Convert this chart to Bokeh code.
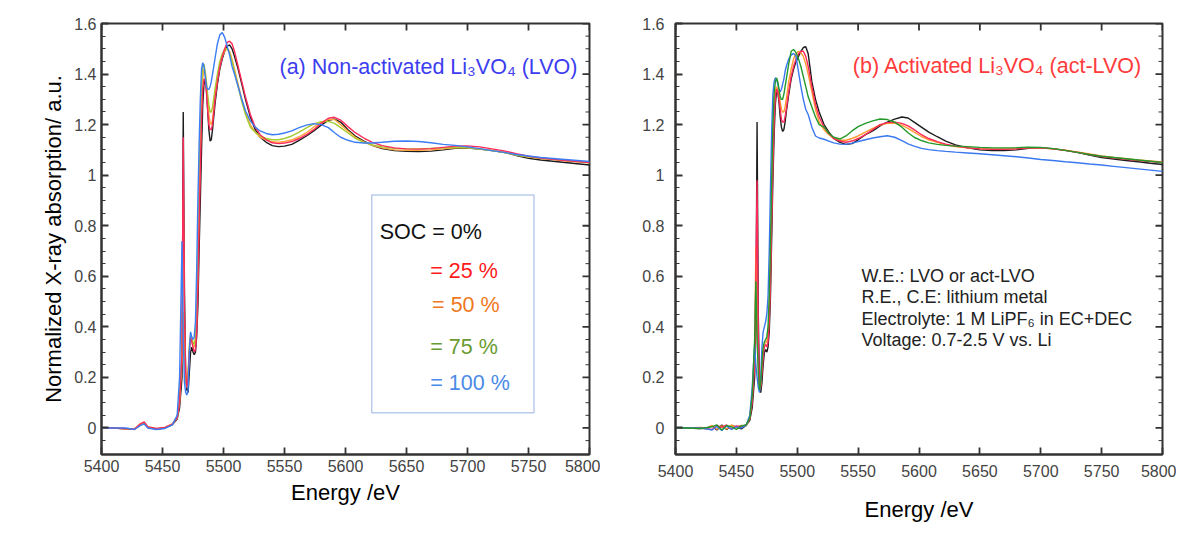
from bokeh.plotting import figure
from bokeh.layouts import row
from bokeh.models import Range1d, FixedTicker, CustomJSTickFormatter
from bokeh.core.properties import value
from bokeh.embed import file_html
from bokeh.resources import INLINE

FONT = "Liberation Sans"

X_TICKS = [5400, 5450, 5500, 5550, 5600, 5650, 5700, 5750, 5800]
Y_TICKS = [0, 0.2, 0.4, 0.6, 0.8, 1.0, 1.2, 1.4, 1.6]
Y_MINOR = [-0.05, 0.05, 0.1, 0.15, 0.25, 0.3, 0.35, 0.45, 0.5, 0.55, 0.65, 0.7, 0.75,
           0.85, 0.9, 0.95, 1.05, 1.1, 1.15, 1.25, 1.3, 1.35, 1.45, 1.5, 1.55]
X_MIN, X_MAX = 5400, 5800
Y_MIN, Y_MAX = -0.105, 1.6

SOC_LABELS = ["SOC = 0%", "= 25 %", "= 50 %", "= 75 %", "= 100 %"]

# ---------------- panel (a): non-activated LVO ----------------
E_A = [5400, 5410, 5420, 5427, 5432, 5435, 5438, 5445, 5452, 5458,
       5462, 5464, 5466, 5467, 5468, 5469, 5470, 5471, 5472, 5473,
       5474, 5475, 5476, 5477, 5478, 5479, 5480, 5481, 5482, 5483,
       5484, 5485, 5486, 5487, 5488, 5489, 5490, 5491, 5493, 5495,
       5497, 5499, 5501, 5503, 5505, 5507, 5509, 5512, 5515, 5518,
       5522, 5526, 5530, 5535, 5540, 5545, 5550, 5556, 5562, 5568,
       5574, 5580, 5586, 5591, 5596, 5602, 5608, 5615, 5622, 5630,
       5640, 5650, 5660, 5670, 5680, 5690, 5700, 5710, 5720, 5730,
       5740, 5750, 5760, 5770, 5780, 5790, 5800]

A_SOC0 = [0.0, 0.0, -0.003, -0.005, 0.012, 0.02, 0.002, -0.004, 0.0, 0.012,
          0.035, 0.08, 0.2, 1.25, 0.55, 0.2, 0.15, 0.14, 0.22, 0.3,
          0.32, 0.3, 0.29, 0.3, 0.36, 0.48, 0.7, 0.9, 1.1, 1.28,
          1.36, 1.38, 1.34, 1.26, 1.18, 1.135, 1.14, 1.18, 1.28, 1.36,
          1.42, 1.46, 1.49, 1.51, 1.515, 1.5, 1.47, 1.42, 1.36, 1.3,
          1.23, 1.18, 1.15, 1.13, 1.117, 1.113, 1.115, 1.122, 1.138, 1.155,
          1.175, 1.198, 1.217, 1.222, 1.21, 1.18, 1.155, 1.135, 1.118, 1.105,
          1.097, 1.094, 1.093, 1.095, 1.1, 1.106, 1.107, 1.103, 1.097, 1.09,
          1.078, 1.067, 1.06, 1.055, 1.05, 1.045, 1.04]
A_SOC25 = [0.0, 0.0, -0.003, -0.004, 0.016, 0.024, 0.004, -0.002, 0.002, 0.015,
           0.04, 0.1, 0.3, 1.15, 0.45, 0.22, 0.16, 0.2, 0.3, 0.36,
           0.34, 0.32, 0.3, 0.31, 0.38, 0.55, 0.8, 1.02, 1.22, 1.34,
           1.38, 1.38, 1.33, 1.26, 1.2, 1.18, 1.18, 1.2, 1.3, 1.37,
           1.43, 1.47, 1.5, 1.525, 1.53, 1.52, 1.49, 1.43, 1.37, 1.31,
           1.24, 1.19, 1.16, 1.14, 1.128, 1.125, 1.127, 1.133, 1.145, 1.16,
           1.18, 1.205, 1.225, 1.229, 1.218, 1.192, 1.168, 1.147, 1.13, 1.117,
           1.108, 1.104, 1.103, 1.105, 1.11, 1.115, 1.116, 1.112, 1.104, 1.096,
           1.085, 1.075, 1.068, 1.063, 1.058, 1.054, 1.05]
A_SOC50 = [0.0, 0.0, -0.003, -0.003, 0.018, 0.022, 0.005, -0.003, 0.002, 0.016,
           0.042, 0.1, 0.28, 0.9, 0.4, 0.2, 0.17, 0.22, 0.3, 0.36,
           0.35, 0.33, 0.32, 0.33, 0.42, 0.62, 0.88, 1.1, 1.28, 1.38,
           1.42, 1.41, 1.36, 1.3, 1.24, 1.21, 1.2, 1.22, 1.31, 1.38,
           1.43, 1.47, 1.49, 1.5, 1.49, 1.46, 1.42, 1.36, 1.3, 1.25,
           1.2, 1.17, 1.15, 1.14, 1.132, 1.13, 1.133, 1.14, 1.152, 1.168,
           1.19, 1.21, 1.22, 1.22, 1.2, 1.175, 1.15, 1.132, 1.118, 1.108,
           1.1, 1.098, 1.098, 1.1, 1.104, 1.108, 1.108, 1.104, 1.098, 1.09,
           1.08, 1.072, 1.066, 1.062, 1.057, 1.053, 1.049]
A_SOC75 = [0.0, 0.0, -0.003, -0.004, 0.012, 0.018, 0.003, -0.004, 0.0, 0.014,
           0.04, 0.12, 0.3, 0.46, 0.3, 0.2, 0.16, 0.22, 0.33, 0.37,
           0.36, 0.34, 0.33, 0.36, 0.48, 0.72, 1.0, 1.2, 1.36, 1.43,
           1.44, 1.41, 1.37, 1.32, 1.28, 1.25, 1.25, 1.27, 1.34, 1.4,
           1.45, 1.48, 1.5, 1.5, 1.485, 1.45, 1.41, 1.35, 1.29, 1.24,
           1.19, 1.17, 1.155, 1.145, 1.14, 1.14, 1.145, 1.155, 1.17, 1.187,
           1.203, 1.212, 1.213, 1.205, 1.188, 1.167, 1.146, 1.13, 1.12, 1.112,
           1.106, 1.104, 1.104, 1.106, 1.108, 1.11, 1.108, 1.103, 1.097, 1.089,
           1.08, 1.073, 1.067, 1.063, 1.058, 1.054, 1.05]
A_SOC100 = [0.0, 0.0, 0.0, -0.006, 0.01, 0.016, 0.0, -0.006, -0.002, 0.012,
            0.05, 0.2, 0.74, 0.35, 0.18, 0.14, 0.13, 0.15, 0.3, 0.38,
            0.36, 0.35, 0.36, 0.42, 0.62, 0.9, 1.12, 1.3, 1.42, 1.445,
            1.43, 1.39, 1.35, 1.34, 1.34, 1.35, 1.37, 1.4, 1.46, 1.52,
            1.555, 1.564, 1.545, 1.51, 1.475, 1.43, 1.4, 1.35, 1.3, 1.255,
            1.215, 1.19, 1.175, 1.165, 1.16, 1.162, 1.167, 1.175, 1.188, 1.198,
            1.204, 1.2, 1.188, 1.168, 1.15, 1.138, 1.13, 1.127, 1.127, 1.13,
            1.134, 1.135, 1.133, 1.128, 1.122, 1.118, 1.112, 1.105, 1.097, 1.09,
            1.082, 1.076, 1.07, 1.066, 1.062, 1.058, 1.054]

# ---------------- panel (b): activated LVO ----------------
E_B = [5400, 5410, 5420, 5426, 5430, 5434, 5438, 5442, 5446, 5450,
       5454, 5458, 5461, 5463, 5465, 5466, 5467, 5468, 5469, 5470,
       5471, 5472, 5473, 5474, 5475, 5476, 5477, 5478, 5479, 5480,
       5481, 5482, 5483, 5484, 5485, 5486, 5487, 5488, 5489, 5490,
       5491, 5493, 5495, 5497, 5499, 5501, 5503, 5505, 5507, 5509,
       5512, 5515, 5518, 5522, 5526, 5530, 5535, 5540, 5545, 5550,
       5556, 5562, 5568, 5574, 5580, 5586, 5591, 5596, 5602, 5608,
       5615, 5622, 5630, 5640, 5650, 5660, 5670, 5680, 5690, 5700,
       5710, 5720, 5730, 5740, 5750, 5760, 5770, 5780, 5790, 5800]

B_SOC0 = [0.0, 0.0, -0.002, 0.0, 0.008, -0.008, 0.012, -0.006, 0.01, 0.004,
          -0.004, 0.01, 0.03, 0.08, 0.2, 0.4, 1.21, 0.45, 0.16, 0.14,
          0.18, 0.25, 0.3, 0.31, 0.3, 0.32, 0.38, 0.52, 0.75, 0.98,
          1.16, 1.28, 1.33, 1.33, 1.29, 1.23, 1.19, 1.173, 1.18, 1.21,
          1.25, 1.32, 1.38, 1.42, 1.45, 1.47, 1.49, 1.505, 1.508, 1.48,
          1.37, 1.3, 1.25, 1.2, 1.17, 1.145, 1.13, 1.122, 1.125, 1.14,
          1.16, 1.175, 1.195, 1.21, 1.222, 1.23, 1.226, 1.21, 1.19, 1.17,
          1.152, 1.135, 1.12, 1.108, 1.1, 1.097, 1.097, 1.1, 1.106, 1.108,
          1.105, 1.098, 1.09, 1.08, 1.07, 1.064, 1.058, 1.053, 1.047, 1.042]
B_SOC25 = [0.0, 0.0, 0.0, -0.003, -0.006, 0.01, 0.002, 0.012, -0.005, 0.008,
           0.006, 0.012, 0.035, 0.1, 0.25, 0.6, 0.98, 0.35, 0.15, 0.16,
           0.22, 0.28, 0.32, 0.33, 0.32, 0.34, 0.42, 0.58, 0.82, 1.05,
           1.22, 1.31, 1.34, 1.33, 1.3, 1.26, 1.22, 1.21, 1.21, 1.23,
           1.26, 1.33, 1.39, 1.43, 1.46, 1.48, 1.49, 1.49, 1.47, 1.43,
           1.35, 1.28, 1.23, 1.19, 1.165, 1.145, 1.135, 1.13, 1.135, 1.145,
           1.16, 1.18, 1.2, 1.208, 1.21, 1.205, 1.195, 1.18, 1.16, 1.145,
           1.133, 1.123, 1.115, 1.108, 1.104, 1.102, 1.102, 1.104, 1.108, 1.108,
           1.104, 1.098, 1.09, 1.082, 1.074, 1.068, 1.063, 1.058, 1.054, 1.05]
B_SOC50 = [0.0, 0.0, 0.002, 0.0, 0.01, -0.005, 0.008, -0.004, 0.012, 0.0,
           0.01, 0.008, 0.04, 0.12, 0.3, 0.72, 0.5, 0.25, 0.15, 0.17,
           0.24, 0.3, 0.33, 0.34, 0.34, 0.37, 0.46, 0.64, 0.88, 1.1,
           1.26, 1.33, 1.35, 1.34, 1.32, 1.29, 1.26, 1.25, 1.25, 1.27,
           1.3, 1.37, 1.42, 1.46, 1.48, 1.49, 1.485, 1.47, 1.44, 1.4,
           1.33, 1.26, 1.21, 1.18, 1.16, 1.145, 1.138, 1.138, 1.145, 1.155,
           1.17, 1.185, 1.198, 1.205, 1.205, 1.198, 1.185, 1.17, 1.153, 1.14,
           1.13, 1.12, 1.113, 1.108, 1.105, 1.104, 1.104, 1.106, 1.108, 1.108,
           1.104, 1.099, 1.092, 1.084, 1.076, 1.07, 1.065, 1.06, 1.056, 1.052]
B_SOC75 = [0.0, 0.0, -0.002, 0.002, 0.005, 0.012, -0.008, 0.01, 0.004, -0.006,
           0.008, 0.012, 0.04, 0.13, 0.35, 0.58, 0.35, 0.22, 0.15, 0.18,
           0.26, 0.32, 0.34, 0.35, 0.36, 0.4, 0.52, 0.72, 0.98, 1.2,
           1.32, 1.37, 1.385, 1.37, 1.34, 1.31, 1.3, 1.3, 1.32, 1.35,
           1.38, 1.44, 1.49, 1.497, 1.485, 1.46, 1.43, 1.39, 1.35, 1.31,
           1.27, 1.23, 1.2, 1.19, 1.165, 1.15, 1.143, 1.155, 1.175, 1.192,
           1.205, 1.215, 1.222, 1.22, 1.21, 1.19, 1.168, 1.15, 1.137, 1.128,
           1.122, 1.118, 1.115, 1.113, 1.11, 1.108, 1.108, 1.109, 1.111, 1.11,
           1.105, 1.098, 1.09, 1.082, 1.075, 1.07, 1.065, 1.06, 1.055, 1.05]
B_SOC100 = [0.0, 0.0, 0.0, -0.004, -0.008, 0.006, -0.01, 0.008, -0.006, 0.004,
            0.0, 0.01, 0.05, 0.16, 0.33, 0.25, 0.2, 0.16, 0.14, 0.2,
            0.32, 0.38, 0.4, 0.42, 0.45, 0.52, 0.7, 0.95, 1.18, 1.32,
            1.37, 1.385, 1.38, 1.36, 1.34, 1.33, 1.34, 1.36, 1.38, 1.41,
            1.43, 1.46, 1.475, 1.482, 1.47, 1.41, 1.35, 1.3, 1.26, 1.24,
            1.19, 1.155, 1.147, 1.142, 1.135, 1.128, 1.123, 1.122, 1.127, 1.133,
            1.14, 1.147, 1.152, 1.156, 1.15, 1.137, 1.124, 1.115, 1.106, 1.101,
            1.097, 1.094, 1.091, 1.088, 1.085, 1.081, 1.077, 1.073, 1.068, 1.062,
            1.058, 1.053, 1.049, 1.044, 1.04, 1.035, 1.03, 1.025, 1.02, 1.015]

for s in (A_SOC0, A_SOC25, A_SOC50, A_SOC75, A_SOC100):
    assert len(s) == len(E_A), len(s)
for s in (B_SOC0, B_SOC25, B_SOC50, B_SOC75, B_SOC100):
    assert len(s) == len(E_B), len(s)

FRAME = "#333333"
HEIGHT = 535
BORDER_TOP = 23
BORDER_BOTTOM = 81
FRAME_H = HEIGHT - BORDER_TOP - BORDER_BOTTOM


def make_panel(E, series, colors, order, border_left, border_right, frame_w,
               ylabel=None, custom_standoff=True):
    width = border_left + frame_w + border_right
    p = figure(width=width, height=HEIGHT, x_range=Range1d(X_MIN, X_MAX),
               y_range=Range1d(Y_MIN, Y_MAX), output_backend="svg",
               toolbar_location=None, min_border_left=border_left,
               min_border_right=border_right, min_border_top=BORDER_TOP,
               min_border_bottom=BORDER_BOTTOM)
    p.xgrid.visible = False
    p.ygrid.visible = False
    p.outline_line_color = FRAME
    p.outline_line_width = 2
    xt = FixedTicker(ticks=X_TICKS, minor_ticks=[])
    yt = FixedTicker(ticks=Y_TICKS, minor_ticks=Y_MINOR)
    for ax, t, st in ((p.xaxis[0], xt, 10), (p.yaxis[0], yt, 11)):
        ax.ticker = t
        ax.axis_line_color = FRAME
        ax.axis_line_width = 2
        ax.major_tick_in = 7
        ax.major_tick_out = 0
        ax.minor_tick_in = 4
        ax.minor_tick_out = 0
        ax.major_tick_line_color = FRAME
        ax.minor_tick_line_color = FRAME
        ax.major_tick_line_width = 1.8
        ax.major_label_text_font = FONT
        ax.major_label_text_font_size = "16px"
        ax.major_label_text_color = "#444444"
        if custom_standoff:
            ax.major_label_standoff = st
    p.yaxis[0].formatter = CustomJSTickFormatter(
        code="return tick.toFixed(1).replace(/\\.0$/, '');")
    ax = p.xaxis[0]
    ax.axis_label = "Energy /eV"
    ax.axis_label_text_font = FONT
    ax.axis_label_text_font_size = "22px"
    ax.axis_label_text_font_style = "normal"
    ax.axis_label_text_color = "black"
    if custom_standoff:
        ax.axis_label_standoff = 17
    if ylabel:
        ay = p.yaxis[0]
        ay.axis_label = ylabel
        ay.axis_label_text_font = FONT
        ay.axis_label_text_font_size = "22px"
        ay.axis_label_text_font_style = "normal"
        ay.axis_label_text_color = "black"
        if custom_standoff:
            ay.axis_label_standoff = 27

    # mirrored inward ticks on the top and right frame edges
    px_x = (X_MAX - X_MIN) / frame_w
    px_y = (Y_MAX - Y_MIN) / FRAME_H
    p.segment(x0=X_TICKS, y0=[Y_MAX] * len(X_TICKS), x1=X_TICKS,
              y1=[Y_MAX - 7 * px_y] * len(X_TICKS), line_color=FRAME, line_width=1.8)
    p.segment(x0=[X_MAX] * len(Y_TICKS), y0=Y_TICKS, x1=[X_MAX - 7 * px_x] * len(Y_TICKS),
              y1=Y_TICKS, line_color=FRAME, line_width=1.8)
    p.segment(x0=[X_MAX] * len(Y_MINOR), y0=Y_MINOR, x1=[X_MAX - 4 * px_x] * len(Y_MINOR),
              y1=Y_MINOR, line_color=FRAME, line_width=1)

    for i in order:
        p.line(E, series[i], line_color=colors[i], line_width=1.4)
    return p


colors_a = ["#1c1c1c", "#ff2a5a", "#ffa640", "#a4cc30", "#3c7cf5"]
colors_b = ["#1c1c1c", "#ff2a5a", "#ff9a30", "#22992a", "#3a78f0"]

p1 = make_panel(E_A, [A_SOC0, A_SOC25, A_SOC50, A_SOC75, A_SOC100], colors_a,
                [0, 2, 3, 1, 4], 101, 11, 488,
                ylabel="Normalized X-ray absorption/ a.u.", custom_standoff=False)
p2 = make_panel(E_B, [B_SOC0, B_SOC25, B_SOC50, B_SOC75, B_SOC100], colors_b,
                [0, 2, 1, 4, 3], 75, 14, 487, custom_standoff=True)

# panel titles
p1.text(x=[5668], y=[1.427], text=["(a) Non-activated Li\u2083VO\u2084 (LVO)"],
        text_font=value(FONT), text_font_size="21.5px", text_color="#3d3df0",
        text_align="center", text_baseline="middle")
p2.text(x=[5667], y=[1.43], text=["(b) Activated Li\u2083VO\u2084  (act-LVO)"],
        text_font=value(FONT), text_font_size="21.5px", text_color="#ff3b3b",
        text_align="center", text_baseline="middle")

# legend box in panel (a)
p1.quad(left=[5621.5], right=[5754.5], bottom=[0.06], top=[0.922],
        fill_color="white", line_color="#b9cbec", line_width=1.5)
leg_x = [5628, 5669.5, 5671, 5669.5, 5669.5]
leg_y = [0.775, 0.62, 0.485, 0.32, 0.178]
leg_colors = ["#111111", "#ff1a1a", "#f07820", "#6a9a30", "#4a8ae6"]
for lx, ly, lt, lc in zip(leg_x, leg_y, SOC_LABELS, leg_colors):
    p1.text(x=[lx], y=[ly], text=[lt], text_color=lc,
            text_font=value(FONT), text_font_size="21.5px",
            text_align="left", text_baseline="middle")

# conditions text in panel (b)
COND = ["W.E.: LVO or act-LVO", "R.E., C.E: lithium metal",
        "Electrolyte: 1 M LiPF\u2086 in EC+DEC", "Voltage: 0.7-2.5 V vs. Li"]
p2.text(x=[5552.7] * 4, y=[0.600, 0.517, 0.433, 0.349], text=COND,
        text_font=value(FONT), text_font_size="18px", text_color="#222222",
        text_align="left", text_baseline="middle")

layout = row(p1, p2)
open("out.html", "w").write(file_html(layout, INLINE))
